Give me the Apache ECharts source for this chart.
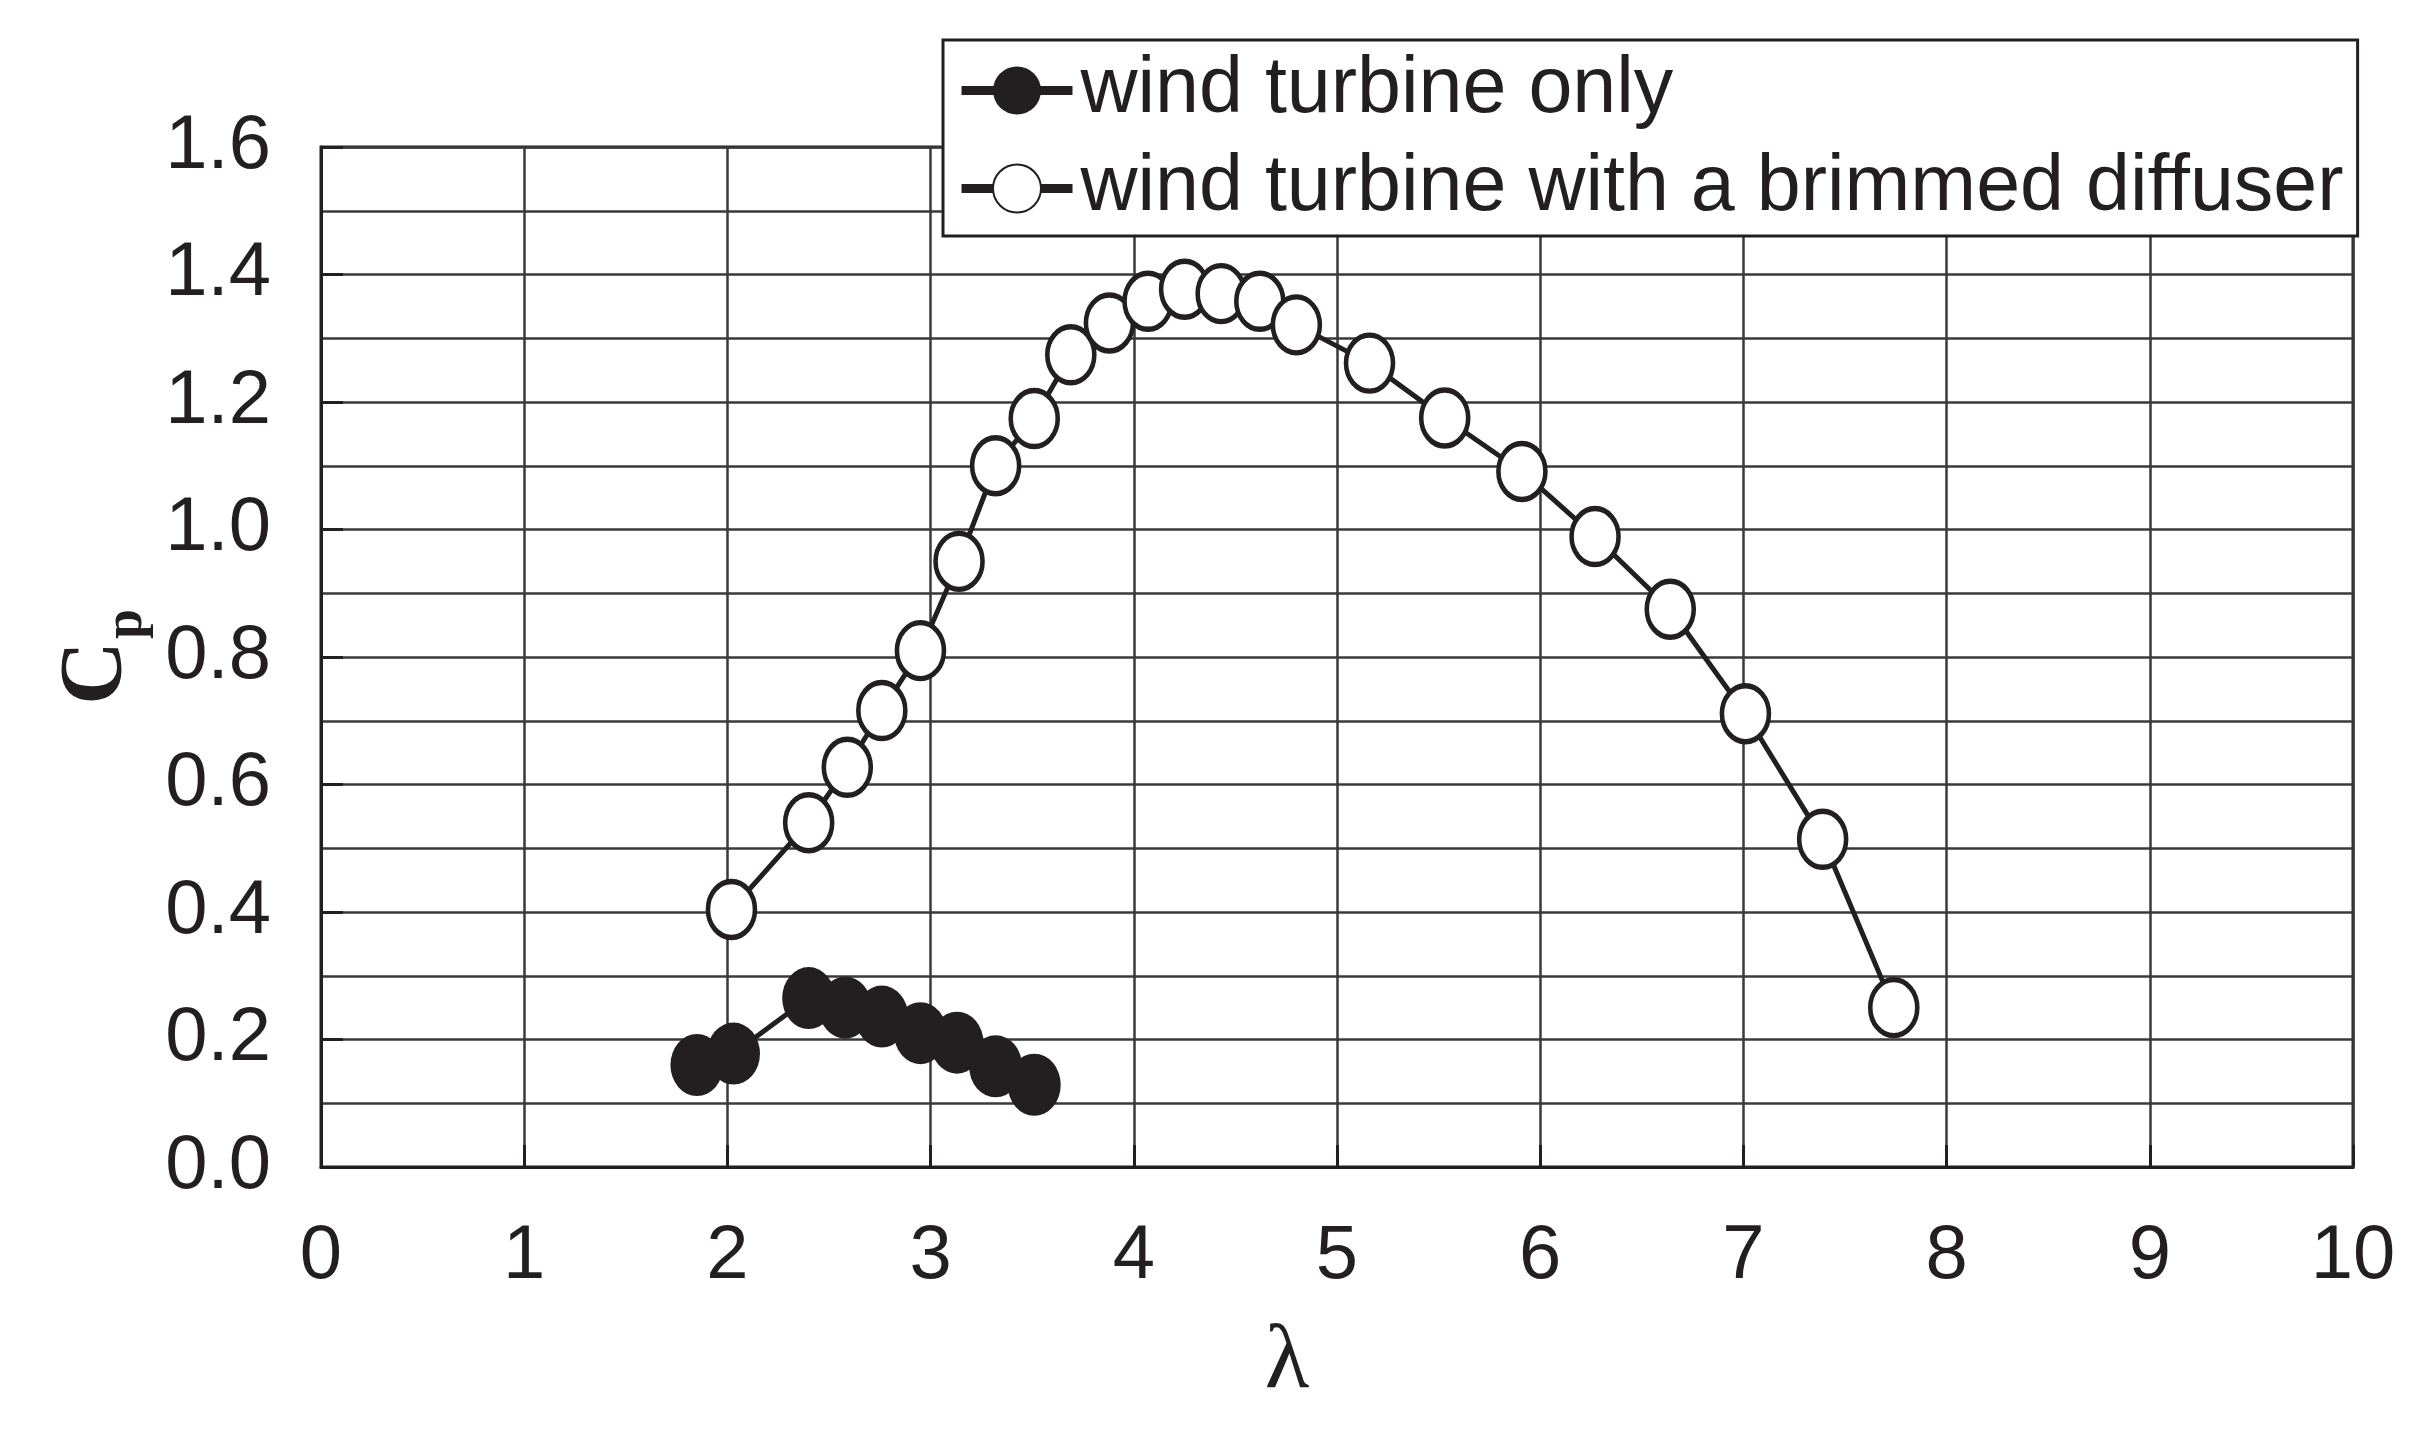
<!DOCTYPE html>
<html>
<head>
<meta charset="utf-8">
<script src="https://cdn.jsdelivr.net/npm/echarts@6/dist/echarts.min.js"></script>
<style>
  html, body { margin: 0; padding: 0; background: #fff; }
  #chart { width: 2431px; height: 1452px; }
</style>
</head>
<body>
<div id="chart"></div>
<script>
let $ = a => document.querySelector(a)

// wind turbine only (filled dots)
let lambdaOnly = [1.85, 2.03, 2.40, 2.58, 2.76, 2.95, 3.13, 3.32, 3.51]
let cpOnly = [0.160, 0.178, 0.265, 0.250, 0.236, 0.210, 0.195, 0.158, 0.129]

// wind turbine with a brimmed diffuser (open dots)
let lambdaDiffuser = [2.02, 2.40, 2.59, 2.76, 2.95, 3.14, 3.32, 3.51, 3.69, 3.88, 4.07, 4.25,
    4.43, 4.62, 4.80, 5.16, 5.53, 5.91, 6.27, 6.64, 7.01, 7.39, 7.74]
let cpDiffuser = [0.404, 0.540, 0.627, 0.716, 0.810, 0.950, 1.100, 1.174, 1.274, 1.324, 1.358, 1.377,
    1.370, 1.358, 1.321, 1.261, 1.175, 1.091, 0.989, 0.875, 0.711, 0.514, 0.250]

let seriesNames = ['wind turbine only', 'wind turbine with a brimmed diffuser']
let xTicks = [0, 10, 1]      // min, max, step
let yTicks = [0, 1.6, 0.2]

let ink = '#231f20'
let gridInk = '#3a3a3a'
let pair = (xs, ys) => xs.map((x, i) => [x, ys[i]])

echarts.init($('#chart')).setOption({
    animation: false,
    backgroundColor: '#fff',
    grid: {
        left: 321,
        right: 78,
        top: 147,
        bottom: 285,
        show: true,
        borderColor: ink,
        borderWidth: 3
    },
    legend: {
        orient: 'vertical',
        left: 943,
        top: 40,
        padding: [11, 14, 8, 14],
        itemWidth: 111,
        itemHeight: 60,
        itemGap: 19,
        borderColor: ink,
        borderWidth: 3,
        backgroundColor: '#fff',
        lineStyle: { width: 9 },
        textStyle: {
            fontFamily: 'Liberation Sans',
            fontSize: 79,
            color: ink,
            padding: [0, 0, 0, 3]
        },
        data: seriesNames
    },
    xAxis: {
        type: 'value',
        min: xTicks[0],
        max: xTicks[1],
        interval: xTicks[2],
        name: 'λ',
        nameLocation: 'middle',
        nameGap: 150,
        nameTextStyle: {
            fontFamily: 'Liberation Serif',
            fontSize: 92,
            color: ink,
            padding: [0, 100, 0, 0]
        },
        axisLine: { lineStyle: { color: ink, width: 3 } },
        axisTick: { show: true, inside: true, length: 22, lineStyle: { color: ink, width: 3 } },
        axisLabel: {
            margin: 52,
            fontFamily: 'Liberation Sans',
            fontSize: 76,
            color: ink
        },
        splitLine: { show: true, lineStyle: { color: gridInk, width: 2.5 } }
    },
    yAxis: {
        type: 'value',
        min: yTicks[0],
        max: yTicks[1],
        interval: yTicks[2],
        axisLine: { show: true, lineStyle: { color: ink, width: 3 } },
        axisTick: { show: true, inside: true, length: 22, lineStyle: { color: ink, width: 3 } },
        axisLabel: {
            margin: 50,
            fontFamily: 'Liberation Sans',
            fontSize: 76,
            color: ink,
            formatter: v => v.toFixed(1)
        },
        splitLine: { show: true, lineStyle: { color: gridInk, width: 2.5 } },
        minorTick: { show: false, splitNumber: 2 },
        minorSplitLine: { show: true, lineStyle: { color: gridInk, width: 2.5 } }
    },
    // C_p axis title, rotated
    graphic: [
        {
            type: 'text',
            x: 97,
            y: 673,
            rotation: Math.PI / 2,
            style: {
                text: 'C',
                fontFamily: 'Liberation Serif',
                fontWeight: 'bold',
                fontSize: 88,
                fill: ink,
                align: 'center',
                verticalAlign: 'middle'
            }
        },
        {
            type: 'text',
            x: 127,
            y: 624,
            rotation: Math.PI / 2,
            style: {
                text: 'p',
                fontFamily: 'Liberation Serif',
                fontWeight: 'bold',
                fontSize: 54,
                fill: ink,
                align: 'center',
                verticalAlign: 'middle'
            }
        }
    ],
    series: [
        {
            name: seriesNames[0],
            type: 'line',
            data: pair(lambdaOnly, cpOnly),
            symbol: 'circle',
            symbolSize: [53, 62],
            lineStyle: { color: ink, width: 5 },
            itemStyle: { color: ink, borderWidth: 0 },
            z: 3
        },
        {
            name: seriesNames[1],
            type: 'line',
            data: pair(lambdaDiffuser, cpDiffuser),
            symbol: 'circle',
            symbolSize: [47, 56],
            lineStyle: { color: ink, width: 5 },
            itemStyle: { color: '#fff', borderColor: ink, borderWidth: 5 },
            z: 3
        }
    ]
})
</script>
</body>
</html>
